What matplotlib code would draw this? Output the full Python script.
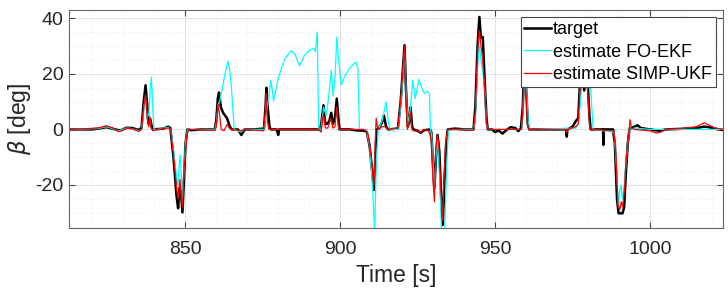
import matplotlib
matplotlib.use("Agg")
import matplotlib.pyplot as plt
from matplotlib.ticker import MultipleLocator

# ---- data ----
t_target = [812.5, 820, 822, 824.5, 826.5, 828.5, 829.5, 831, 833, 834.8, 835.9, 836.6, 837.2, 837.8, 838.2,
            838.7, 839.3, 840, 843, 844.5, 845.2, 846.2, 847.2, 847.7, 848.2, 848.6, 849.1, 849.6, 850.1,
            850.7, 852, 855, 859.5, 860, 860.5, 860.9, 861.5, 862.2, 863.5, 864.4, 865, 867, 868.1, 869.2,
            872, 875.4, 875.9, 876.2, 876.6, 877.2, 877.6, 879.5, 880, 880.3, 885, 893, 893.5, 894, 894.6,
            895.2, 895.8, 896.5, 897.1, 897.7, 898.3, 898.9, 899.5, 899.8, 903, 905, 908, 908.6, 909.5,
            910.3, 910.9, 911.4, 911.7, 912.5, 913.5, 914.1, 914.8, 915.5, 918.6, 919.5, 920.75, 921.2,
            921.8, 922.3, 922.7, 923.2, 923.6, 925, 926, 927, 929, 929.4, 929.9, 930.4, 930.9, 931.4, 932,
            932.6, 933.1, 933.6, 934.2, 934.7, 937, 940, 943, 943.6, 944.3, 944.9, 945.4, 946, 946.6, 947.2,
            947.6, 949, 950, 951, 952.4, 953.5, 955, 956.5, 957.5, 958.3, 958.9, 959.4, 960, 960.5, 961,
            965, 970, 972.9, 973.1, 973.3, 975, 976, 976.8, 977.4, 978, 978.7, 979.3, 979.8, 980.4, 980.8,
            984.8, 984.9, 985.0, 988, 988.6, 989.3, 989.8, 991.1, 991.6, 992.2, 992.8, 993.3, 994, 995.9,
            997, 1000, 1002.9, 1005, 1010, 1015, 1017.4, 1019, 1021, 1023.5]
v_target = [0, 0, 0.3, 0.8, 0.3, -0.3, -0.2, 0.6, 0.5, -0.2, 0.5, 10, 15.9, 8, 2,
            3.8, 0.5, 0, 0.3, 1, 0.5, -10, -24, -28.4, -21, -22, -29.9, -18, -5,
            0, -0.3, 0, 0, 3, 11, 13.3, 8, 6, 4, 1, 0, 0, -2, 0,
            0, 0.3, 8, 15, 8, 1, 0, 0, -2, 0, 0, 0, 0, 3, 8.7,
            2, 2, 3, 6, 2, 4, 11.1, 3, 0, 0, -0.3, -0.5, -1, -6,
            -15, -21.8, -10, 0, 0.5, 2.5, 5, 1, 0, 0.3, 10, 30.3, 15,
            1, 3, 8, 1, 0, -0.5, -1.2, -0.3, 0, -1, -12, -21, -10, -2, -8,
            -25, -34.4, -20, -5, 0, 0.3, 0, 0, 8, 30, 40.5, 33, 33.3, 18, 4,
            0, 0, -1, -0.3, -1.5, -0.3, 0.8, 0.5, -0.6, 0.5, 8, 25, 15, 2, 0,
            0, 0, 0, -2.6, 0, 1, 3, 4, 18, 22, 14, 20, 18, 5, 0,
            0, -5.6, 0, 0, -5, -25, -30.2, -30.2, -28, -15, -5, 0, 0.5, 1.5,
            0.5, 0, -0.5, 0, 0.2, 0.5, 1, 0.8, 0.2, -0.2]

t_ukf = [812.5, 822, 824.5, 826.5, 828.5, 829.5, 831, 833, 835, 835.9, 836.6, 837.2, 837.7, 838.2, 838.6,
         839, 839.5, 841, 844.5, 845.3, 846.3, 847.3, 847.7, 848.3, 848.8, 849.1, 849.6, 850.1, 850.5,
         851, 859.5, 860, 860.6, 861.1, 861.6, 862.5, 863.5, 864.2, 865, 868, 869, 875.3, 875.8, 876.1,
         876.5, 877, 893, 893.8, 894.2, 894.6, 895.2, 896, 897, 897.6, 898.3, 898.9, 899.4, 899.8, 905,
         907.5, 908.3, 909, 910, 910.9, 911.3, 911.6, 912, 912.5, 913.5, 914.5, 915.5, 918.6, 919.5,
         920.75, 921.2, 921.7, 922.2, 922.6, 923.2, 923.6, 925, 926, 927, 928.5, 929, 929.5, 929.9, 930.4,
         930.8, 931.3, 931.8, 932.4, 933, 933.4, 934, 934.7, 943, 943.6, 944.4, 944.9, 945.4, 946, 946.6,
         947.2, 947.6, 950, 958.5, 958.9, 959.4, 960, 960.5, 961, 972.9, 973.1, 973.5, 976, 976.8, 977.4,
         978, 979.3, 979.8, 980.4, 980.8, 988.3, 989, 989.6, 990.2, 990.7, 991.2, 991.8, 992.3, 992.8,
         993.5, 994, 995, 1000, 1002, 1003.5, 1005, 1010, 1015, 1017.4, 1019, 1021, 1023.5]
v_ukf = [0, 0.5, 1.3, 0.6, -0.8, -0.5, 0.4, 0.3, -0.8, 0, 8, 12.5, 4, 1, 4.5,
         0.5, -0.5, 0, 0.5, 0, -10, -22, -25, -18, -25, -28, -15, -8, -2,
         0, -0.3, 1, 9, 5, 0, -0.5, 1.8, 0.5, 0, -0.5, 0, -0.5, 6, 13,
         3, 0, 0, -1, 2, 6, 0.5, 0.5, 4, 0.5, 1, 8, 1, 0, 0,
         0, -0.5, -2, -10, -20, -5, 4, 1, 0, 1, 1, 0, 0.5, 10,
         30, 12, 0, 2, 6, 0, -0.5, -0.5, -1, 0, -0.5, -2, -5, -18, -26,
         -8, -2, -5, -20, -33, -20, -5, 0, -0.3, 6, 30, 35.7, 30, 25, 15,
         2, 0, 0, 0, 6, 22, 12, 1, 0, 0, -1, 0, 1, 2, 16,
         20, 19, 15, 2, 0, -0.5, -10, -27, -29, -26, -28, -20, -10, -5,
         3.5, 0.5, 0, -0.5, -1.3, -1, 0, 0.3, 1, 2.4, 1.5, 0.5, 0]

t_ekf = [812.5, 822, 824.5, 826.5, 828.5, 831, 833, 835, 835.9, 836.6, 837.2, 837.7, 838.3, 838.7, 839.1,
         839.5, 839.9, 841, 844.5, 845.3, 846.3, 847.3, 847.7, 848.1, 848.4, 848.8, 849.1, 849.6, 850.1,
         850.7, 859.5, 860, 860.6, 861.1, 862, 863, 863.8, 864.3, 864.9, 865.5, 865.8, 868, 869, 875.4,
         876, 877, 877.6, 878.1, 878.5, 879, 880, 882.1, 884.2, 885.3, 886.9, 888.5, 890.1, 891.5, 892,
         892.6, 893.05, 893.8, 894.6, 895.5, 896.3, 897.1, 897.7, 898.4, 898.9, 899.5, 900.3, 901.4, 903,
         905, 905.7, 906.2, 908, 908.6, 909.5, 910.5, 911.1, 911.7, 912.3, 913.5, 914.8, 915.5, 916,
         918.6, 919.5, 920.75, 921.2, 921.8, 922.6, 923.4, 924.2, 925.4, 926.3, 927.2, 928, 928.8, 929.1,
         929.5, 930, 930.4, 930.9, 931.4, 932, 932.7, 933.7, 934.3, 934.9, 943, 943.6, 944.4, 944.9,
         945.4, 946, 946.6, 947.2, 947.6, 958.5, 958.9, 959.4, 960, 960.6, 961.2, 976, 976.8, 977.5,
         978.2, 980, 980.8, 981.6, 988.4, 989.2, 989.8, 990.2, 990.6, 991, 991.5, 992, 992.8, 993.3, 995,
         1000, 1023.5]
v_ekf = [0, 0.3, 1, 0.3, -0.5, 0.5, 0.3, -0.5, 0, 7, 12, 4, 6, 14, 18.9,
         8, 0, 0, 0.8, 0, -8, -18, -20, -12, -9.2, -18, -25, -15, -5,
         0, 0, 2, 9, 10, 15, 21, 24.5, 22, 15, 5, 0, -1, 0, 0,
         5, 12, 17.7, 14, 10.2, 13, 18.4, 25.5, 28.3, 27.3, 22.9, 26.8, 28.5, 29.1, 28,
         35.1, 0, 0, 8, 5, 12, 21.3, 12, 20, 33.3, 25, 16, 19, 22,
         24.3, 22, 0, 0, -1, -6, -22, -37, -10, 0, 3, 9.9, 3, 0,
         0, 8, 28, 15, 2, 7, 17.7, 11.1, 18, 15, 12.9, 13.8, 12.9, 0,
         -2, -12, -22, -10, -3, -15, -37, -37, -15, 0, 0, 4, 25, 30,
         25, 20.7, 15, 2, 0, 0, 5, 20, 18, 3, 0, 0.5, 2, 10,
         20, 20, 15, 0, -1, -15, -28, -22, -20, -25, -22, -15, -5, 0, 0.5,
         0, 0]

labels = ["target", "estimate FO-EKF", "estimate SIMP-UKF"]
x_ticks = [850, 900, 950, 1000]
y_ticks = [-20, 0, 20, 40]

# ---- figure ----
plt.rcParams['font.family'] = ['Liberation Sans', 'DejaVu Sans']
plt.rcParams['axes.unicode_minus'] = False
fig = plt.figure(figsize=(7.28, 2.97), dpi=100)
ax = fig.add_axes([69/728, 1-228/297, (723-69)/728, (228-10)/297])

ax.plot(t_target, v_target, color='black', lw=1.8, label=labels[0])
ax.plot(t_ekf, v_ekf, color='#00FFFF', lw=0.9, label=labels[1])
ax.plot(t_ukf, v_ukf, color='#FF0000', lw=0.9, label=labels[2])

ax.set_xlim(812.5, 1023.5)
ax.set_ylim(-35.5, 43)
ax.set_xticks(x_ticks)
ax.set_yticks(y_ticks)
ax.xaxis.set_minor_locator(MultipleLocator(10))
ax.yaxis.set_minor_locator(MultipleLocator(5))
ax.grid(which='major', color='#dcdcdc', lw=0.6)
ax.grid(which='minor', color='#e8e8e8', lw=0.5, ls=':')
ax.set_axisbelow(True)
ax.tick_params(which='both', direction='in', top=True, right=True, colors='#444444',
               labelcolor='#262626', labelsize=14)
ax.tick_params(which='major', length=4)
ax.tick_params(which='minor', length=0)
ax.tick_params(axis='x', pad=9)
ax.tick_params(axis='y', pad=4)
for s in ax.spines.values():
    s.set_color('#666666')
    s.set_linewidth(0.8)

ax.set_xlabel('Time [s]', fontsize=16.5, color='#262626')
ax.set_ylabel(r'$\beta$ [deg]', fontsize=16.5, color='#262626')
ax.xaxis.set_label_coords(0.5, (228-264)/218)
ax.yaxis.set_label_coords((33-69)/654, 0.5)

leg = ax.legend(loc='upper right', fontsize=13, handlelength=1.5, handletextpad=0.1,
                borderpad=0.2, labelspacing=0.32, borderaxespad=0.4, fancybox=False,
                framealpha=1, edgecolor='#444444')
leg.get_frame().set_linewidth(0.8)

fig.savefig('out.png', dpi=100)
